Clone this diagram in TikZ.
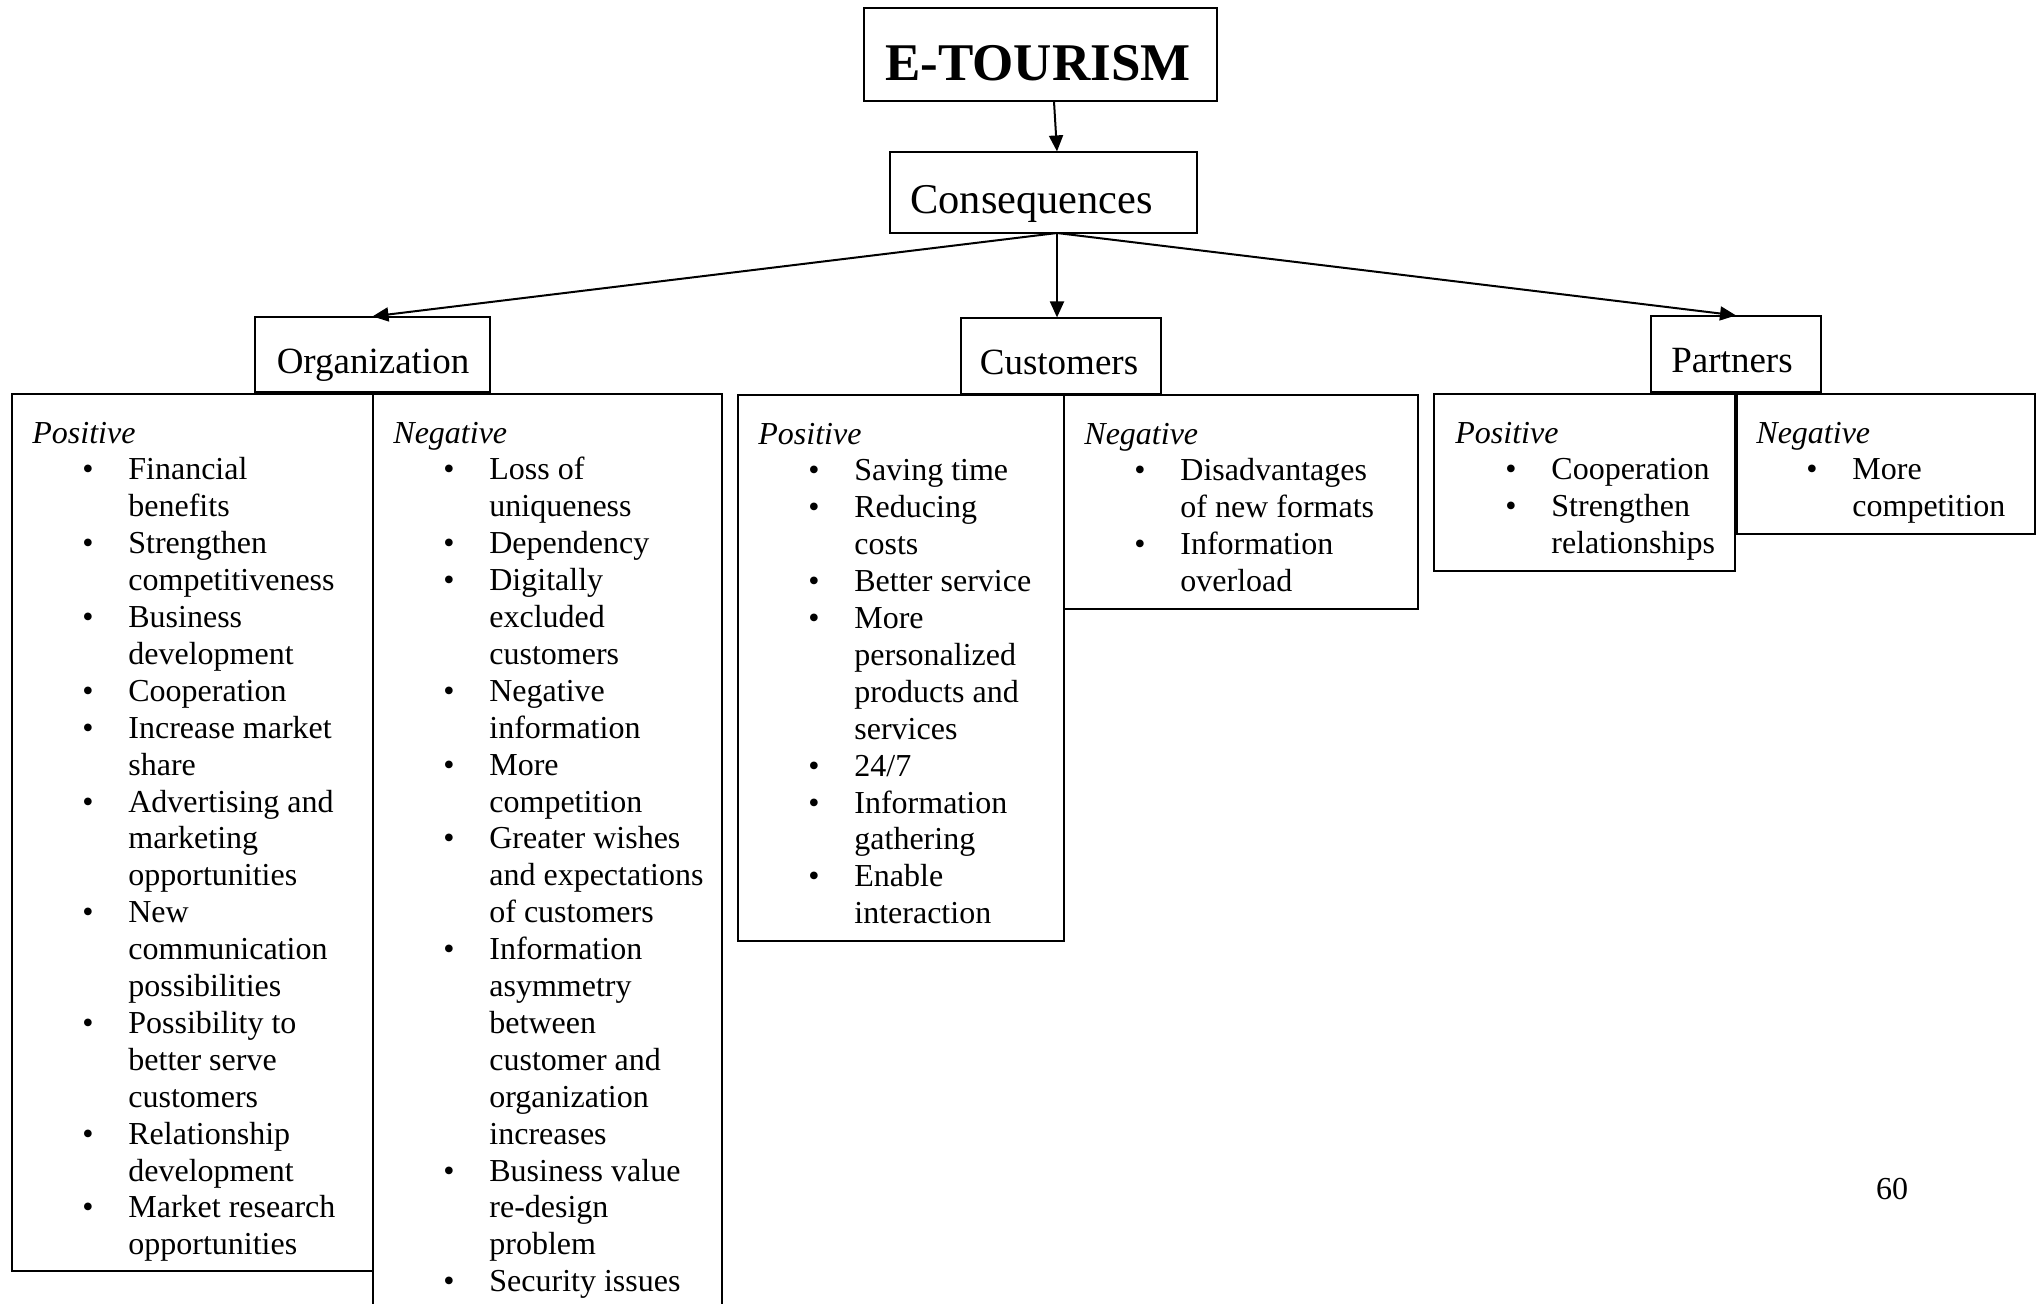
\documentclass[tikz,border=0pt]{standalone}
\usepackage{fontspec}
\setmainfont{Liberation Serif}
\usetikzlibrary{arrows.meta,fit}
\newcommand\bitem[1]{\hspace*{25pt}\makebox[23pt][l]{\textbullet}#1}
\newcommand\bcont[1]{\hspace*{48pt}#1}
\begin{document}
\begin{tikzpicture}[x=0.5pt,y=-0.5pt,
  box/.style={draw, line width=0.6pt, inner sep=0pt},
  arr/.style={line width=1pt, -{Triangle[length=8pt,width=7pt]}},
  lbl/.style={anchor=base, inner sep=0pt, font=\fontsize{18.5}{22}\selectfont},
  lst/.style={anchor=base west, inner sep=0pt, font=\fontsize{16}{18.45}\selectfont}]
\useasboundingbox (0,0) rectangle (2044,1303);

% header boxes
\node[box, fit={(864,8) (1217,101)}] (et) {};
\node[anchor=base, inner sep=0pt, font=\bfseries\fontsize{26.5}{30}\selectfont] (ettxt) at (1038,80) {E-TOURISM};
\node[box, fit={(890,152) (1197,233)}] (cons) {};
\node[anchor=base west, inner sep=0pt, font=\fontsize{21.2}{25}\selectfont] (constxt) at (910,213) {Consequences};

\node[box, fit={(255,317) (490,392)}] (org) {};
\node[lbl] (orgtxt) at (373,373) {Organization};
\node[box, fit={(961,318) (1161,394)}] (cust) {};
\node[lbl] (custtxt) at (1059,374) {Customers};
\node[box, fit={(1651,316) (1821,392)}] (part) {};
\node[lbl] (parttxt) at (1732,372) {Partners};

% connectors
\coordinate (etb) at (1054,101);
\coordinate (cb) at (1057,233);
\draw[arr] (et.south -| etb) -- (cons.north -| cb);
\draw[arr] (cb) -- (org.north);
\draw[arr] (cb) -- (cb |- cust.north);
\draw[arr] (cb) -- (part.north);

% list boxes
\node[box, fit={(12,394) (373,1271)}] (orgpos) {};
\node[box, fit={(373,394) (722,1330)}] (orgneg) {};
\node[box, fit={(738,395) (1064,941)}] (custpos) {};
\node[box, fit={(1064,395) (1418,609)}] (custneg) {};
\node[box, fit={(1434,394) (1735,571)}] (partpos) {};
\node[box, fit={(1737,394) (2035,534)}] (partneg) {};

\node[lst] (orgpostxt) at (32,443) {\begin{tabular}[t]{@{}l@{}}
\textit{Positive}\\
\bitem{Financial}\\ \bcont{benefits}\\
\bitem{Strengthen}\\ \bcont{competitiveness}\\
\bitem{Business}\\ \bcont{development}\\
\bitem{Cooperation}\\
\bitem{Increase market}\\ \bcont{share}\\
\bitem{Advertising and}\\ \bcont{marketing}\\ \bcont{opportunities}\\
\bitem{New}\\ \bcont{communication}\\ \bcont{possibilities}\\
\bitem{Possibility to}\\ \bcont{better serve}\\ \bcont{customers}\\
\bitem{Relationship}\\ \bcont{development}\\
\bitem{Market research}\\ \bcont{opportunities}
\end{tabular}};

\node[lst] (orgnegtxt) at (393,443) {\begin{tabular}[t]{@{}l@{}}
\textit{Negative}\\
\bitem{Loss of}\\ \bcont{uniqueness}\\
\bitem{Dependency}\\
\bitem{Digitally}\\ \bcont{excluded}\\ \bcont{customers}\\
\bitem{Negative}\\ \bcont{information}\\
\bitem{More}\\ \bcont{competition}\\
\bitem{Greater wishes}\\ \bcont{and expectations}\\ \bcont{of customers}\\
\bitem{Information}\\ \bcont{asymmetry}\\ \bcont{between}\\ \bcont{customer and}\\ \bcont{organization}\\ \bcont{increases}\\
\bitem{Business value}\\ \bcont{re-design}\\ \bcont{problem}\\
\bitem{Security issues}
\end{tabular}};

\node[lst] (custpostxt) at (758,444) {\begin{tabular}[t]{@{}l@{}}
\textit{Positive}\\
\bitem{Saving time}\\
\bitem{Reducing}\\ \bcont{costs}\\
\bitem{Better service}\\
\bitem{More}\\ \bcont{personalized}\\ \bcont{products and}\\ \bcont{services}\\
\bitem{24/7}\\
\bitem{Information}\\ \bcont{gathering}\\
\bitem{Enable}\\ \bcont{interaction}
\end{tabular}};

\node[lst] (custnegtxt) at (1084,444) {\begin{tabular}[t]{@{}l@{}}
\textit{Negative}\\
\bitem{Disadvantages}\\ \bcont{of new formats}\\
\bitem{Information}\\ \bcont{overload}
\end{tabular}};

\node[lst] (partpostxt) at (1455,443) {\begin{tabular}[t]{@{}l@{}}
\textit{Positive}\\
\bitem{Cooperation}\\
\bitem{Strengthen}\\ \bcont{relationships}
\end{tabular}};

\node[lst] (partnegtxt) at (1756,443) {\begin{tabular}[t]{@{}l@{}}
\textit{Negative}\\
\bitem{More}\\ \bcont{competition}
\end{tabular}};

\node[anchor=base, inner sep=0pt, font=\fontsize{16}{18}\selectfont] (pagenum) at (1892,1199) {60};
\end{tikzpicture}
\end{document}
